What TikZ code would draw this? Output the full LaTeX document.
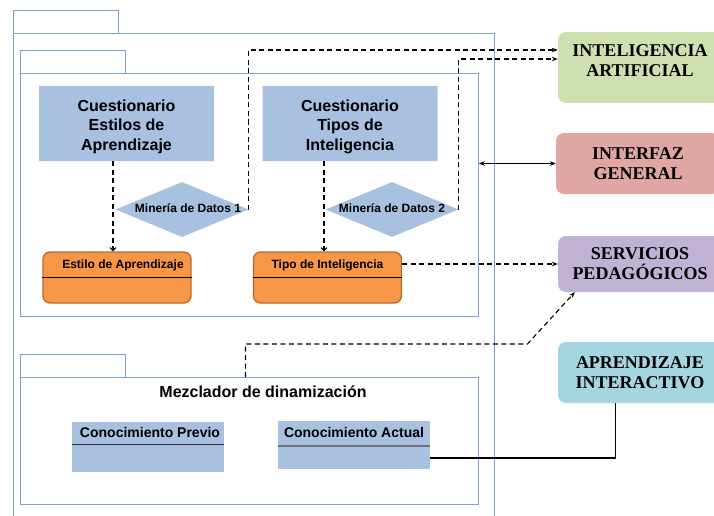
\documentclass[tikz,border=0pt]{standalone}
\usepackage{fontspec}
\setmainfont{Liberation Sans}
\newfontfamily\capsserif{Liberation Serif}
\usetikzlibrary{shapes.geometric,shapes.misc,arrows.meta,calc}

\definecolor{pkgline}{HTML}{7F9ED3}
\definecolor{qblue}{HTML}{A9C1E0}
\definecolor{oranfill}{HTML}{F79646}
\definecolor{oranline}{HTML}{B56A2E}
\definecolor{iagreen}{HTML}{D0DFB0}
\definecolor{ifpink}{HTML}{DFA6A4}
\definecolor{svpurple}{HTML}{C0B2D4}
\definecolor{apblue}{HTML}{A6D5E2}

\tikzset{
  pkg/.style={draw=pkgline, line width=0.9pt},
  pkgbody/.style={pkg, rectangle, anchor=north west, inner sep=0pt},
  notebox/.style={chamfered rectangle, chamfered rectangle corners=north east,
    chamfered rectangle xsep=10pt, chamfered rectangle ysep=10pt,
    fill=qblue, minimum width=175pt, minimum height=75pt, inner sep=0pt},
  notetext/.style={align=center, inner sep=0pt,
    font=\bfseries\fontsize{16}{19.5}\selectfont},
  minebox/.style={diamond, fill=qblue, aspect=2.4, inner sep=0pt,
    minimum width=133pt, minimum height=55pt},
  minetext/.style={font=\bfseries\fontsize{12}{14}\selectfont, inner sep=0pt},
  classbox/.style={rectangle, rounded corners=7pt, fill=oranfill, draw=oranline,
    line width=1.3pt, minimum width=148pt, minimum height=51pt, inner sep=0pt},
  classtext/.style={font=\bfseries\fontsize{12}{14}\selectfont, inner sep=0pt},
  knowbox/.style={rectangle, fill=qblue, minimum width=152pt, inner sep=0pt},
  knowtext/.style={font=\bfseries\fontsize{14}{16}\selectfont, inner sep=0pt},
  modbox/.style={rectangle, rounded corners=8pt, minimum width=164pt, inner sep=0pt,
    align=center, font=\capsserif\bfseries\fontsize{18}{20}\selectfont},
  dline/.style={line width=1.1pt, dash pattern=on 5pt off 3.5pt},
  tipS/.style={-{Stealth[length=6pt,width=4.5pt]}},
  tipV/.style={-{Straight Barb[length=3pt,width=6pt]}},
}

\begin{document}
\begin{tikzpicture}[x=1pt,y=-1pt]
\useasboundingbox (0,0) rectangle (714,516);

% outer package
\draw[pkg] (13,10) rectangle (118,33);
\draw[pkg] (13,520) -- (13,33) -- (494,33) -- (494,520);

% mining package
\draw[pkg] (20,50) rectangle (125,73);
\node[pkgbody, minimum width=458pt, minimum height=243pt] (pk1) at (20,73) {};

% dynamisation package
\draw[pkg] (20,354) rectangle (125,377);
\node[pkgbody, minimum width=458pt, minimum height=127pt] (pk2) at (20,377) {};
\node[font=\bfseries\fontsize{16}{18}\selectfont, inner sep=0pt] (mez) at (263,392) {Mezclador de dinamización};

% questionnaires
\node[notebox] (q1) at (126.5,123.5) {};
\node[notetext] (q1t) at ([yshift=-3pt]q1.center) {Cuestionario\\Estilos de\\Aprendizaje};
\node[notebox] (q2) at (350,123.5) {};
\node[notetext] (q2t) at ([yshift=-3pt]q2.center) {Cuestionario\\Tipos de\\Inteligencia};

% data mining steps
\node[minebox] (d1) at (182,209.5) {};
\node[minetext] (d1t) at (188,208) {Minería de Datos 1};
\node[minebox] (d2) at (392,209.5) {};
\node[minetext] (d2t) at (392,208) {Minería de Datos 2};

% result classes
\node[classbox] (o1) at (117,277.5) {};
\draw[line width=0.8pt] (o1.west) -- (o1.east);
\node[classtext] (o1t) at ([xshift=6pt,yshift=12.5pt]o1.center) {Estilo de Aprendizaje};
\node[classbox] (o2) at (327.5,277.5) {};
\draw[line width=0.8pt] (o2.west) -- (o2.east);
\node[classtext] (o2t) at ([yshift=12.5pt]o2.center) {Tipo de Inteligencia};

% knowledge classes
\node[knowbox, minimum height=50pt] (cp) at (148,447) {};
\draw[line width=0.8pt, black!80] ([yshift=3pt]cp.west) -- ([yshift=3pt]cp.east);
\node[knowtext] (cpt) at ([xshift=2pt,yshift=15pt]cp.center) {Conocimiento Previo};
\node[knowbox, minimum height=48pt] (ca) at (354,445) {};
\draw[line width=1.3pt, black!55] ([yshift=-1pt]ca.west) -- ([yshift=-1pt]ca.east);
\node[knowtext] (cat) at ([yshift=13pt]ca.center) {Conocimiento Actual};

% modules on the right
\node[modbox, fill=iagreen, minimum height=71pt] (ia) at (640,67.5) {};
\node[font=\capsserif\bfseries\fontsize{18}{20}\selectfont, align=center, inner sep=0pt] (iat) at ([yshift=7pt]ia.center) {INTELIGENCIA\\ARTIFICIAL};
\node[modbox, fill=ifpink, minimum height=61pt] (intf) at (638,163.5) {INTERFAZ\\GENERAL};
\node[modbox, fill=svpurple, minimum height=56pt] (serv) at (640,264) {SERVICIOS\\PEDAGÓGICOS};
\node[modbox, fill=apblue, minimum height=61pt] (apr) at (640,372.5) {APRENDIZAJE\\INTERACTIVO};

% connectors
\draw[dline, tipV] ([xshift=-13.5pt]q1.south) -- ([xshift=-13.5pt]q1.south |- o1.north);
\draw[dline, tipV] ([xshift=-26pt]q2.south) -- ([xshift=-26pt]q2.south |- o2.north);
\draw[dline, tipS] (d1.east) |- ([yshift=17.5pt]ia.west);
\draw[dline, tipS] (d2.east) |- ([yshift=8.5pt]ia.west);
\draw[line width=1.2pt, {Stealth[length=6pt,width=4.5pt]}-{Stealth[length=6pt,width=4.5pt]}] (pk1.east |- intf.west) -- (intf.west);
\draw[dline, tipS] (o2.east |- serv.west) -- (serv.west);
\draw[dline, tipS] ([xshift=-4pt]pk2.north) -- ++(0,-33) -- ++(282,0) -- ([xshift=17pt]serv.south west);
\draw[line width=1.2pt] ([yshift=-13pt]ca.east) -| ([xshift=58pt]apr.south west);
\end{tikzpicture}
\end{document}
